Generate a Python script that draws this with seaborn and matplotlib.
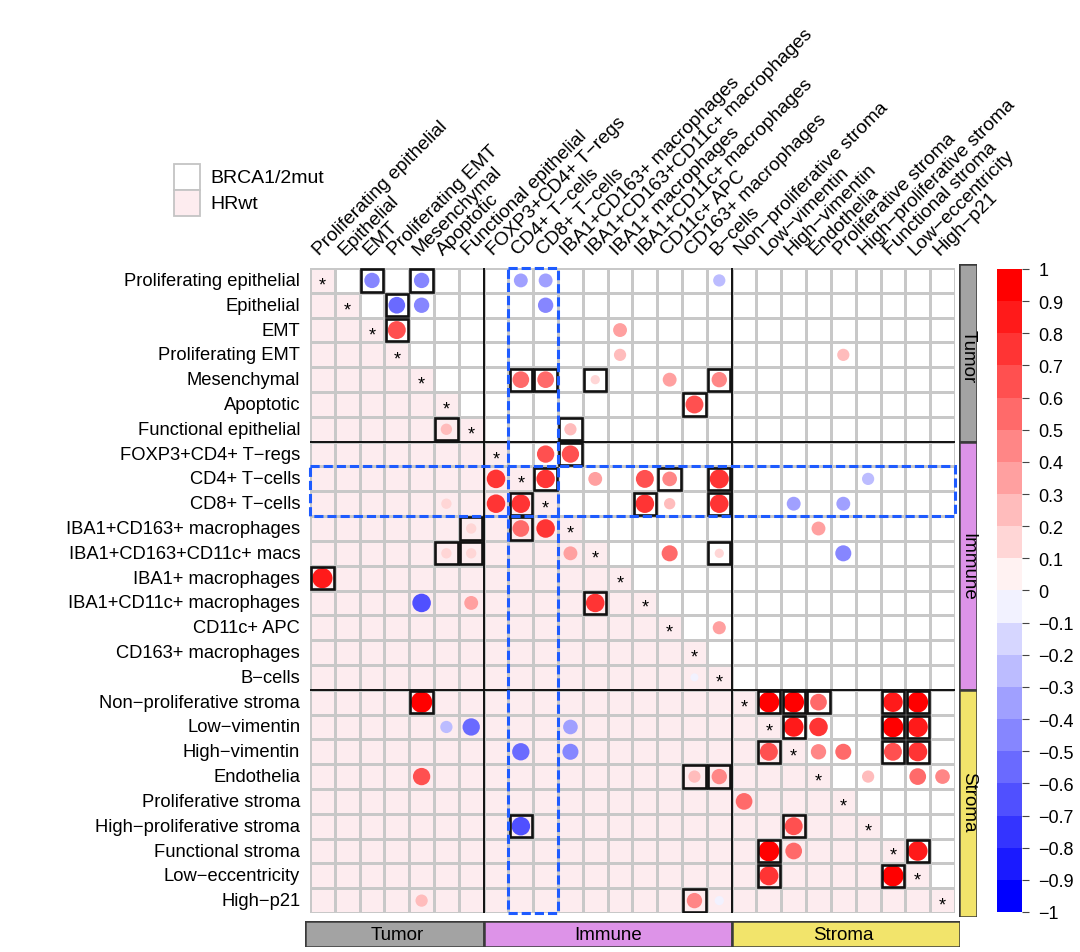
import seaborn as sns
import pandas as pd
import matplotlib.pyplot as plt
import numpy as np
import matplotlib as mpl
from matplotlib.colors import ListedColormap, LinearSegmentedColormap, BoundaryNorm
from matplotlib.patches import Rectangle

# row / column labels (26 cell phenotypes)
row_labels = ['Proliferating epithelial', 'Epithelial', 'EMT', 'Proliferating EMT',
              'Mesenchymal', 'Apoptotic', 'Functional epithelial',
              'FOXP3+CD4+ T\u2212regs', 'CD4+ T\u2212cells', 'CD8+ T\u2212cells',
              'IBA1+CD163+ macrophages', 'IBA1+CD163+CD11c+ macs', 'IBA1+ macrophages',
              'IBA1+CD11c+ macrophages', 'CD11c+ APC', 'CD163+ macrophages', 'B\u2212cells',
              'Non\u2212proliferative stroma', 'Low\u2212vimentin', 'High\u2212vimentin',
              'Endothelia', 'Proliferative stroma', 'High\u2212proliferative stroma',
              'Functional stroma', 'Low\u2212eccentricity', 'High\u2212p21']
col_labels = row_labels[:11] + ['IBA1+CD163+CD11c+ macrophages'] + row_labels[12:]

groups = ['Tumor', 'Immune', 'Stroma']
group_sizes = [7, 10, 9]
group_colors = ['#a3a3a3', '#dd93e8', '#f2e46b']

# correlations shown as circles (row, column, r, significant box)
corr_row = [0, 0, 0, 0, 0,
            1, 1, 1,
            2, 2,
            3, 3,
            4, 4, 4, 4, 4,
            5,
            6, 6,
            7, 7,
            8, 8, 8, 8, 8, 8, 8,
            9, 9, 9, 9, 9, 9, 9, 9,
            10, 10, 10, 10,
            11, 11, 11, 11, 11, 11,
            12,
            13, 13, 13,
            14,
            16,
            17, 17, 17, 17, 17, 17,
            18, 18, 18, 18, 18, 18, 18,
            19, 19, 19, 19, 19, 19, 19,
            20, 20, 20, 20, 20, 20,
            21,
            22, 22,
            23, 23, 23,
            24, 24,
            25, 25, 25]
corr_col = [2, 4, 8, 9, 16,
            3, 4, 9,
            3, 12,
            12, 21,
            8, 9, 11, 14, 16,
            15,
            5, 10,
            9, 10,
            7, 9, 11, 13, 14, 16, 22,
            5, 7, 8, 13, 14, 16, 19, 21,
            6, 8, 9, 20,
            5, 6, 10, 14, 16, 21,
            0,
            4, 6, 11,
            16,
            15,
            4, 18, 19, 20, 23, 24,
            5, 6, 10, 19, 20, 23, 24,
            8, 10, 18, 20, 21, 23, 24,
            4, 15, 16, 22, 24, 25,
            17,
            8, 19,
            18, 19, 24,
            18, 23,
            4, 15, 16]
corr_val = [-0.45, -0.45, -0.35, -0.35, -0.25,
            -0.55, -0.45, -0.45,
            0.65, 0.35,
            0.25, 0.25,
            0.55, 0.55, 0.1, 0.35, 0.45,
            0.65,
            0.2, 0.25,
            0.6, 0.6,
            0.7, 0.7, 0.35, 0.65, 0.4, 0.75, -0.25,
            0.15, 0.7, 0.7, 0.7, 0.2, 0.7, -0.35, -0.35,
            0.15, 0.55, 0.7, 0.35,
            0.15, 0.15, 0.35, 0.5, 0.1, -0.5,
            0.85,
            -0.7, 0.35, 0.7,
            0.3,
            -0.05,
            0.95, 0.9, 0.9, 0.55, 0.8, 0.9,
            -0.25, -0.6, -0.4, 0.8, 0.7, 0.9, 0.85,
            -0.6, -0.5, 0.65, 0.45, 0.5, 0.65, 0.75,
            0.6, 0.25, 0.45, 0.25, 0.55, 0.4,
            0.55,
            -0.7, 0.65,
            0.9, 0.55, 0.8,
            0.75, 0.95,
            0.25, 0.45, -0.1]
corr_box = [1, 1, 0, 0, 0,
            1, 0, 0,
            1, 0,
            0, 0,
            1, 1, 1, 0, 1,
            1,
            1, 1,
            0, 1,
            0, 1, 0, 0, 1, 1, 0,
            0, 0, 1, 1, 0, 1, 0, 0,
            1, 1, 0, 0,
            1, 1, 0, 0, 1, 0,
            1,
            0, 0, 1,
            0,
            0,
            1, 1, 1, 1, 1, 1,
            0, 0, 0, 1, 0, 1, 1,
            0, 0, 1, 0, 0, 1, 1,
            0, 1, 1, 0, 0, 0,
            0,
            1, 1,
            1, 0, 1,
            1, 1,
            0, 1, 0]

n = len(row_labels)
pink = '#fdecef'

sns.set_style('white')
plt.rcParams['font.family'] = ['Liberation Sans', 'DejaVu Sans']
plt.rcParams['text.color'] = 'black'
plt.rcParams['xtick.color'] = 'black'
plt.rcParams['ytick.color'] = 'black'

ramp = LinearSegmentedColormap.from_list('bwr_ramp', ['#0000ff', '#ffffff', '#ff0000'])
cmap = ListedColormap(ramp(np.linspace(0, 1, 20)))

fig = plt.figure(figsize=(10.8, 9.53), dpi=100)
ax = fig.add_axes([0.2870, 0.0409, 0.5972, 0.6768])

# background: lower triangle HRwt (pink), upper BRCA1/2mut (white)
bg = pd.DataFrame([[1 if i >= j else 0 for j in range(n)] for i in range(n)],
                  index=row_labels, columns=col_labels)
sns.heatmap(bg, cmap=ListedColormap(['white', pink]), vmin=0, vmax=1, cbar=False,
            linewidths=1.0, linecolor='#c8c8c8', ax=ax,
            xticklabels=col_labels, yticklabels=row_labels)

df = pd.DataFrame({'x': np.array(corr_col) + 0.5, 'y': np.array(corr_row) + 0.5,
                   'r': corr_val, 'absr': np.abs(corr_val)})
sns.scatterplot(data=df, x='x', y='y', hue='r', palette=cmap, hue_norm=(-1, 1),
                size='absr', sizes=(22, 245), size_norm=(0, 1), linewidth=0,
                legend=False, ax=ax, zorder=3)

for r, c, b in zip(corr_row, corr_col, corr_box):
    if b:
        ax.add_patch(Rectangle((c + 0.05, r + 0.05), 0.9, 0.9, fill=False,
                               edgecolor='#111111', lw=1.9, zorder=4))

for i in range(n):
    ax.text(i + 0.5, i + 0.68, '*', ha='center', va='center', fontsize=13, zorder=5)

for b in [7, 17]:
    ax.axhline(b, color='#111111', lw=1.4, zorder=4)
    ax.axvline(b, color='#111111', lw=1.4, zorder=4)

ax.add_patch(Rectangle((8, 0), 2, n, fill=False, edgecolor='#1e5bff', lw=2.2,
                       linestyle=(0, (3, 1.3)), zorder=6, clip_on=False))
ax.add_patch(Rectangle((0, 8), n, 2, fill=False, edgecolor='#1e5bff', lw=2.2,
                       linestyle=(0, (3, 1.3)), zorder=6, clip_on=False))

ax.set_xlim(0, n)
ax.set_ylim(n, 0)
ax.set_xlabel('')
ax.set_ylabel('')
ax.xaxis.tick_top()
ax.set_xticks(np.arange(n) + 0.5)
ax.set_xticklabels(col_labels, rotation=45, ha='left', va='bottom',
                   rotation_mode='anchor', fontsize=13.8)
ax.set_yticklabels(row_labels, rotation=0, fontsize=13.2)
ax.tick_params(axis='both', length=0, pad=7, labelcolor='black')

# group bar on the right
ax_r = fig.add_axes([0.8880, 0.0367, 0.0170, 0.6850])
start = 0
for g, s, col in zip(groups, group_sizes, group_colors):
    y0 = start - 0.2 if start == 0 else start
    y1 = start + s + (0.2 if start + s == n else 0)
    ax_r.add_patch(Rectangle((0, y0), 1, y1 - y0, facecolor=col, edgecolor='#3a3a3a', lw=1.8))
    ax_r.text(0.5, start + s / 2, g, rotation=-90, ha='center', va='center', fontsize=13.5)
    start += s
ax_r.set_xlim(0, 1)
ax_r.set_ylim(n + 0.2, -0.2)
ax_r.axis('off')

# group bar at the bottom
ax_b = fig.add_axes([0.2824, 0.0052, 0.6065, 0.0273])
start = 0
for g, s, col in zip(groups, group_sizes, group_colors):
    x0 = start - 0.2 if start == 0 else start
    x1 = start + s + (0.2 if start + s == n else 0)
    ax_b.add_patch(Rectangle((x0, 0), x1 - x0, 1, facecolor=col, edgecolor='#3a3a3a', lw=1.8))
    ax_b.text(start + s / 2, 0.5, g, ha='center', va='center', fontsize=13.5)
    start += s
ax_b.set_xlim(-0.2, n + 0.2)
ax_b.set_ylim(0, 1)
ax_b.axis('off')

# colour key
ax_c = fig.add_axes([0.9231, 0.0420, 0.0231, 0.6747])
bounds = np.linspace(-1, 1, 21)
cb = mpl.colorbar.ColorbarBase(ax_c, cmap=cmap, norm=BoundaryNorm(bounds, 20),
                               ticks=bounds, orientation='vertical')
cb.outline.set_visible(False)
cb.set_ticklabels([('%g' % round(v, 1)).replace('-', '\u2212') for v in bounds])
ax_c.tick_params(length=5, width=0.8, color='#444444', labelsize=13, pad=7,
                 labelcolor='black')

# legend for the two triangles
ax_l = fig.add_axes([0.150, 0.765, 0.20, 0.07])
ax_l.set_xlim(0, 216)
ax_l.set_ylim(67, 0)
ax_l.add_patch(Rectangle((12, 8), 26, 26, facecolor='white', edgecolor='#c4c4c4', lw=1.3))
ax_l.add_patch(Rectangle((12, 34), 26, 26, facecolor=pink, edgecolor='#c4c4c4', lw=1.3))
ax_l.text(48, 21, 'BRCA1/2mut', va='center', fontsize=14)
ax_l.text(48, 47, 'HRwt', va='center', fontsize=14)
ax_l.axis('off')

fig.savefig('out.png', dpi=100)
